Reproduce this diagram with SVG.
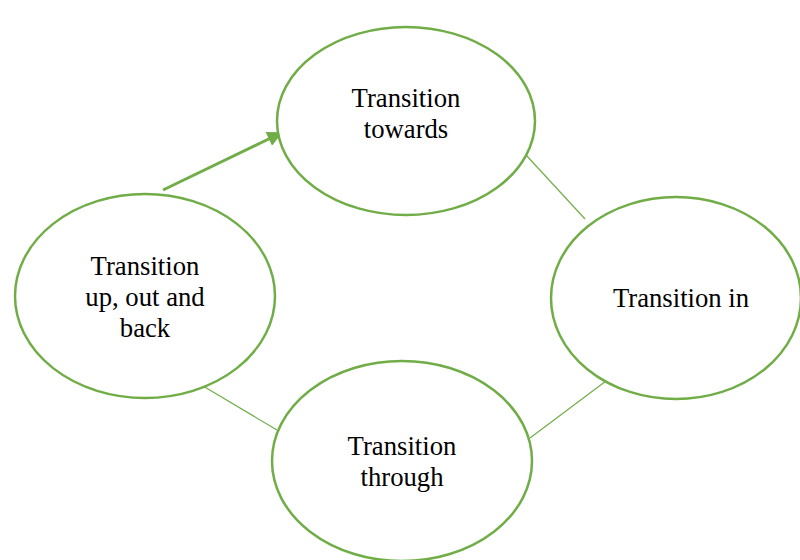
<svg xmlns="http://www.w3.org/2000/svg" width="800" height="560" viewBox="0 0 800 560">
<style>
.n{fill:#fff;stroke:#70AD47;stroke-width:2.5}
.t{font-family:"Liberation Serif","Times New Roman",serif;font-size:26.7px;fill:#000;text-anchor:middle}
.c{stroke:#70AD47;stroke-width:1.2;fill:none}
.a{stroke:#70AD47;stroke-width:3;fill:none}
</style>
<defs>
<marker id="ah" viewBox="0 0 10 10" refX="9" refY="5" markerWidth="6" markerHeight="5" orient="auto" markerUnits="strokeWidth">
<path d="M0,0L10,5L0,10z" fill="#70AD47"/>
</marker>
</defs>
<rect width="800" height="560" fill="#fff"/>
<g id="connectors">
<line class="a" x1="163" y1="190" x2="281" y2="133" marker-end="url(#ah)"/>
<line class="c" x1="526" y1="155" x2="585" y2="219"/>
<line class="c" x1="606" y1="381" x2="530" y2="438"/>
<line class="c" x1="203" y1="386" x2="277" y2="430"/>
</g>
<g id="towards">
<ellipse class="n" cx="406" cy="121" rx="129" ry="94"/>
<text class="t" x="406" y="107">Transition</text>
<text class="t" x="406" y="138">towards</text>
</g>
<g id="upoutback">
<ellipse class="n" cx="145" cy="296" rx="130" ry="102"/>
<text class="t" x="145" y="275">Transition</text>
<text class="t" x="145" y="306">up, out and</text>
<text class="t" x="145" y="337">back</text>
</g>
<g id="in">
<ellipse class="n" cx="676" cy="298" rx="125" ry="101"/>
<text class="t" x="681" y="307">Transition in</text>
</g>
<g id="through">
<ellipse class="n" cx="402" cy="461" rx="130" ry="100"/>
<text class="t" x="402" y="455">Transition</text>
<text class="t" x="402" y="486">through</text>
</g>
</svg>
